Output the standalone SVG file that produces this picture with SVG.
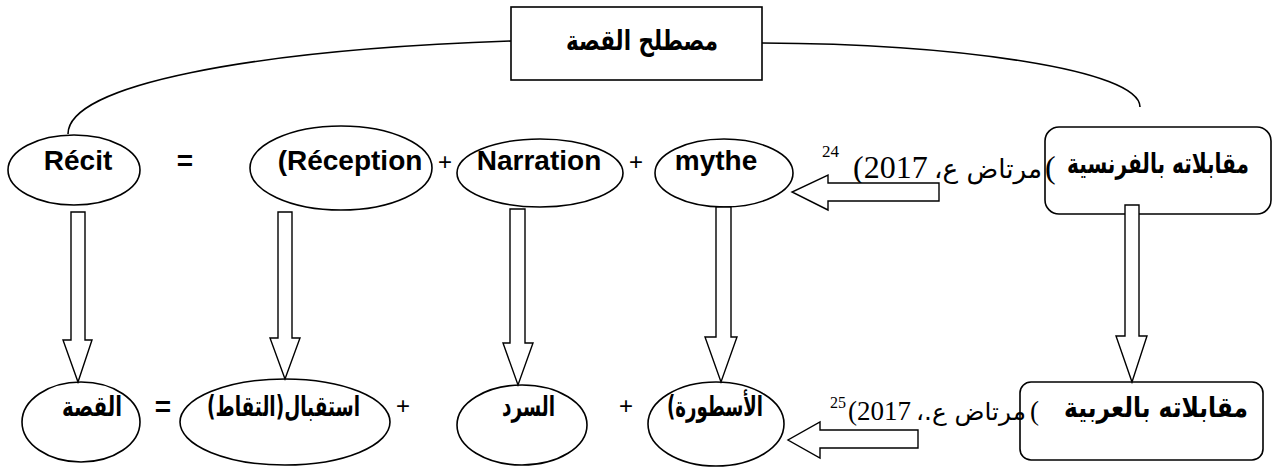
<svg xmlns="http://www.w3.org/2000/svg" width="1274" height="468" viewBox="0 0 1274 468">
<style>
.shape{fill:#fff;stroke:#000;stroke-width:1.6}
.line{fill:none;stroke:#000;stroke-width:1.6}
.arr{fill:#fff;stroke:#000;stroke-width:1.4}
.fr{font-family:"Liberation Sans","DejaVu Sans",sans-serif;font-weight:bold;font-size:28px;fill:#000}
.ar{font-family:"DejaVu Sans",sans-serif;font-weight:bold;font-size:28px;fill:#000}
.op{font-family:"Liberation Sans","DejaVu Sans",sans-serif;font-size:24px;fill:#000}
.ref{font-family:"Liberation Serif","DejaVu Sans",serif;font-size:32px;fill:#000}
.refa{font-family:"DejaVu Sans",sans-serif;font-size:26px;fill:#000}
.sup{font-family:"Liberation Serif",serif;font-size:17px;fill:#000}
</style>
<rect width="1274" height="468" fill="#fff"/>
<g id="connectors">
<path class="line" d="M511,41 C250,50 68,85 68,134"/>
<path class="line" d="M762,43 C960,44 1140,70 1140,107"/>
</g>
<g id="n-title"><rect class="shape" x="511" y="7" width="251" height="73"/><text class="ar" x="566" y="50" textLength="152" lengthAdjust="spacingAndGlyphs">مصطلح القصة</text></g>
<g id="n-recit"><ellipse class="shape" cx="74" cy="170" rx="66" ry="35"/><text class="fr" x="78" y="170" text-anchor="middle">Récit</text></g>
<g id="eq1"><text class="fr" x="185" y="170" text-anchor="middle">=</text></g>
<g id="n-reception"><ellipse class="shape" cx="341" cy="168" rx="91" ry="42"/><text class="fr" x="350" y="170" text-anchor="middle">(Réception</text></g>
<g id="plus1"><text class="op" x="445" y="170" text-anchor="middle">+</text></g>
<g id="n-narration"><ellipse class="shape" cx="540" cy="173" rx="83" ry="34"/><text class="fr" x="539" y="170" text-anchor="middle">Narration</text></g>
<g id="plus2"><text class="op" x="636" y="170" text-anchor="middle">+</text></g>
<g id="n-mythe"><ellipse class="shape" cx="724" cy="173" rx="69" ry="34"/><text class="fr" x="716" y="170" text-anchor="middle">mythe</text></g>
<g id="n-fr"><rect class="shape" x="1045" y="127" width="226" height="87" rx="14"/><text class="ar" x="1067" y="173" textLength="182" lengthAdjust="spacingAndGlyphs">مقابلاته بالفرنسية</text></g>
<g id="ref1">
<text class="sup" x="822" y="157">24</text>
<text class="ref" x="853" y="178">(2017</text>
<text class="refa" x="988" y="178" direction="rtl" text-anchor="middle" textLength="108" lengthAdjust="spacingAndGlyphs">مرتاض ع،</text>
<text class="ref" x="1045" y="178">(</text>
</g>
<g id="n-qissa"><ellipse class="shape" cx="81" cy="422" rx="59" ry="40"/><text class="ar" x="62" y="416" textLength="60" lengthAdjust="spacingAndGlyphs">القصة</text></g>
<g id="eq2"><text class="fr" x="163" y="416" text-anchor="middle">=</text></g>
<g id="n-istiqbal"><ellipse class="shape" cx="285" cy="422" rx="105" ry="43"/><text class="ar" x="207" y="416" textLength="153" lengthAdjust="spacingAndGlyphs">استقبال(التقاط)</text></g>
<g id="plus3"><text class="op" x="403" y="414" text-anchor="middle">+</text></g>
<g id="n-sard"><ellipse class="shape" cx="522" cy="425" rx="65" ry="40"/><text class="ar" x="502" y="416" textLength="53" lengthAdjust="spacingAndGlyphs">السرد</text></g>
<g id="plus4"><text class="op" x="626" y="414" text-anchor="middle">+</text></g>
<g id="n-ostoura"><ellipse class="shape" cx="716" cy="424" rx="68" ry="42"/><text class="ar" x="667" y="416" textLength="96" lengthAdjust="spacingAndGlyphs">(الأسطورة</text></g>
<g id="n-ar"><rect class="shape" x="1020" y="382" width="243" height="78" rx="11"/><text class="ar" x="1064" y="417" textLength="184" lengthAdjust="spacingAndGlyphs">مقابلاته بالعربية</text></g>
<g id="ref2">
<text class="sup" x="830" y="408" style="font-size:16px">25</text>
<text class="ref" x="848" y="420" style="font-size:27px">(2017</text>
<text class="refa" x="971" y="420" direction="rtl" text-anchor="middle" style="font-size:24px" textLength="110" lengthAdjust="spacingAndGlyphs">مرتاض ع.،</text>
<text class="ref" x="1030" y="420" style="font-size:27px">(</text>
</g>
<g id="arrows">
<path class="arr" d="M71,212 H85 V340 H92 L78,382 L63,340 H71 Z"/>
<path class="arr" d="M278,212 H292 V338 H300 L285,379 L270,338 H278 Z"/>
<path class="arr" d="M510,209 H525 V343 H533 L518,385 L503,343 H510 Z"/>
<path class="arr" d="M716,207 H731 V337 H737 L721,382 L705,337 H716 Z"/>
<path class="arr" d="M1125,205 H1139 V336 H1147 L1132,382 L1116,336 H1125 Z"/>
<path class="arr" d="M939,183 H828 V175 L792,192 L828,210 V201 H939 Z"/>
<path class="arr" d="M918,430 H820 V422 L788,440 L820,458 V448 H918 Z"/>
</g>
</svg>
